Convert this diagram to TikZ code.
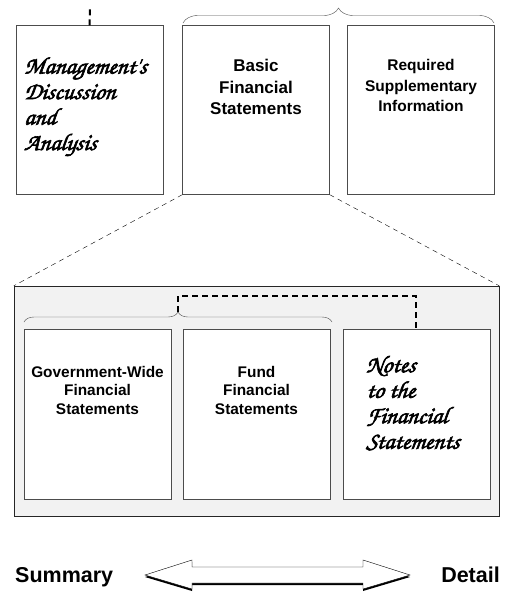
\documentclass[tikz,border=0pt]{standalone}
\usepackage{fontspec}
\setmainfont{Liberation Sans}
\newfontfamily\brush[FakeBold=2.5,FakeSlant=0.12]{texgyrechorus-mediumitalic.otf}
\usetikzlibrary{decorations.pathreplacing,positioning}
\definecolor{edge}{gray}{0.3}
\definecolor{panel}{gray}{0.95}
\tikzset{
  page/.style={draw=edge,fill=white,minimum width=147pt,minimum height=169pt,inner sep=0pt},
  big/.style={font=\bfseries\fontsize{17}{21.5}\selectfont,align=center,anchor=north,inner sep=0pt},
  mid/.style={font=\bfseries\fontsize{15.5}{20.5}\selectfont,align=center,anchor=north,inner sep=0pt},
  small/.style={font=\bfseries\fontsize{15.4}{18.5}\selectfont,align=center,anchor=north,inner sep=0pt},
  hand/.style={font=\brush\fontsize{24}{25.5}\selectfont,align=left,anchor=north west,inner sep=0pt},
  link/.style={line width=2pt,dash pattern=on 6pt off 4pt},
  zoomline/.style={thin,dash pattern=on 5pt off 4pt},
  curly/.style={draw=edge,decorate,decoration={brace,amplitude=#1}}
}
\begin{document}
\begin{tikzpicture}[x=1pt,y=-1pt]
\useasboundingbox (0,0) rectangle (510,592);
% top row
\node[page] (mda) at (89.5,110) {};
\node[page] (basic) at (256,110) {};
\node[page] (rsi) at (421,110) {};
\node[big,below=34pt of basic.north] (basictxt) {Basic\\Financial\\Statements};
\node[mid,below=34pt of rsi.north] (rsitxt) {Required\\Supplementary\\Information};
\node[hand,below right=32pt and 8pt of mda.north west] (mdatxt) {Management's\\Discussion\\and\\Analysis};
\coordinate (mdaup) at (90,9);
\draw[link] (mda.north) -- (mdaup);
\draw[curly=15pt] (183,23) -- (494,23);
% detail panel
\node[draw=black!85,fill=panel,minimum width=485pt,minimum height=230pt] (panel) at (256.5,401) {};
\draw[zoomline] (basic.south west) -- (panel.north west);
\draw[zoomline] (basic.south east) -- (panel.north east);
\node[page,minimum height=170pt] (gov) at (97.5,414) {};
\node[page,minimum height=170pt] (fund) at (256.5,414) {};
\node[page,minimum height=170pt] (notes) at (416.5,414) {};
\node[small,below=37pt of gov.north] (govtxt) {Government-Wide\\Financial\\Statements};
\node[small,below=37pt of fund.north] (fundtxt) {Fund\\Financial\\Statements};
\node[hand,below right=27pt and 23pt of notes.north west] (notestxt) {Notes\\to the\\Financial\\Statements};
\draw[curly=10pt] (24,322) -- (332,322);
\coordinate (tip) at (178,312);
\coordinate (bend) at (178,296);
\coordinate (ntop) at (416,329);
\draw[link] (tip) -- (bend) -| (ntop);
% scale arrow
\node[font=\bfseries\fontsize{21.5}{24}\selectfont,anchor=base west,inner sep=0pt] (summary) at (15,582) {Summary};
\node[font=\bfseries\fontsize{21.5}{24}\selectfont,anchor=base east,inner sep=0pt] (detail) at (500,582) {Detail};
\fill[black,yshift=-2pt] (145,575) -- (192,560) -- (192,567) -- (363,567) -- (363,560) -- (410,575)
  -- (363,589) -- (363,583) -- (192,583) -- (192,589) -- cycle;
\draw[fill=white,thin] (145,575) -- (192,560) -- (192,567) -- (363,567) -- (363,560) -- (410,575)
  -- (363,589) -- (363,583) -- (192,583) -- (192,589) -- cycle;
\end{tikzpicture}
\end{document}
